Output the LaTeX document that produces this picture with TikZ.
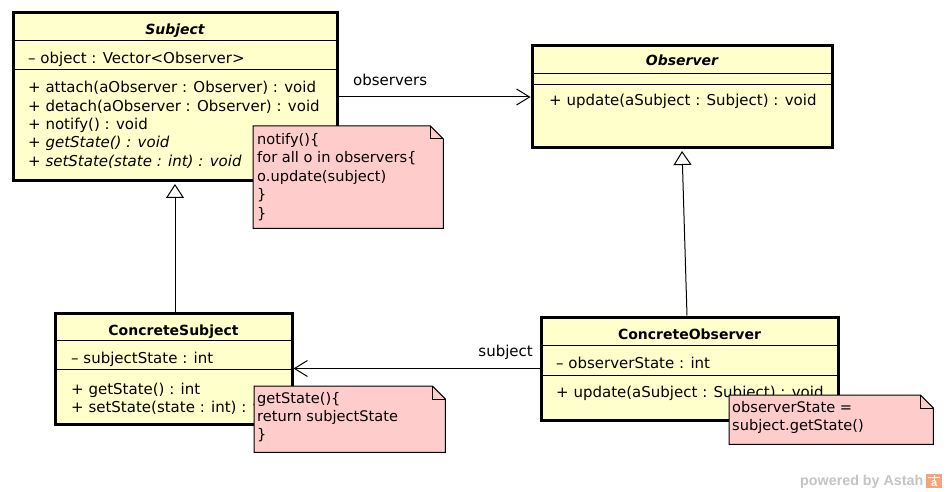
\documentclass[tikz,border=0pt]{standalone}
\usepackage{fontspec}
\setmainfont{DejaVu Sans}
\newfontfamily\wmfont{Liberation Sans}
\usetikzlibrary{arrows.meta,calc}

\definecolor{classfill}{HTML}{FFFFCC}
\definecolor{notefill}{HTML}{FFCCCC}
\definecolor{wmgray}{HTML}{C4C4C4}
\definecolor{wmorange}{HTML}{F4A47C}

\tikzset{
  classbox/.style={rectangle, draw=black, line width=3pt, fill=classfill, inner sep=0pt},
  divider/.style={draw=black, line width=1pt},
  member/.style={anchor=base west, inner sep=0pt, font=\fontsize{15}{18}\selectfont},
  ctitle/.style={anchor=base, inner sep=0pt, font=\fontsize{14}{17}\selectfont\bfseries},
  notebox/.style={rectangle, inner sep=0pt, draw=none, anchor=north west},
  noteline/.style={anchor=base west, inner sep=0pt, font=\fontsize{14.6}{17}\selectfont},
  notepaper/.style={draw=black, line width=1pt, fill=notefill},
  link/.style={draw=black, line width=1pt},
  assoc/.style={link, -{Straight Barb[length=13pt, width=16pt]}},
  inherit/.style={link, -{Triangle[length=14pt, width=18pt, fill=white]}, shorten >=1.5pt},
  rolename/.style={inner sep=0pt, font=\fontsize{15}{18}\selectfont},
}

% note sheet with a folded top-right corner, drawn over a placeholder node
\newcommand\dognote[2][13pt]{%
  \filldraw[notepaper] (#2.north west) -- ($(#2.north east)+(-#1,0)$)
    -- ($(#2.north east)+(0,-#1)$) -- (#2.south east) -- (#2.south west) -- cycle;
  \draw[notepaper, fill=none] ($(#2.north east)+(-#1,0)$) |- ($(#2.north east)+(0,-#1)$);}

\begin{document}
\begin{tikzpicture}[x=1pt, y=-1pt]
\useasboundingbox (0,0) rectangle (946,492);

% ---------- Subject ----------
\node[classbox, minimum width=324pt, minimum height=168pt] (subject) at (175,97) {};
\draw[divider] ([yshift=-29pt]subject.north west) -- ([yshift=-29pt]subject.north east);
\draw[divider] ([yshift=-58pt]subject.north west) -- ([yshift=-58pt]subject.north east);
\node[ctitle, font=\fontsize{14}{17}\selectfont\bfseries\itshape] (subject-title) at (175,35) {Subject};
\node[member] (subject-a1) at (28,64) {– object : Vector<Observer>};
\node[member] (subject-m1) at (28,93) {+ attach(aObserver : Observer) : void};
\node[member] (subject-m2) at (28,112) {+ detach(aObserver : Observer) : void};
\node[member] (subject-m3) at (28,130) {+ notify() : void};
\node[member, font=\fontsize{15}{18}\selectfont\itshape] (subject-m4) at (28,148) {+ getState() : void};
\node[member, font=\fontsize{15}{18}\selectfont\itshape] (subject-m5) at (28,167) {+ setState(state : int) : void};

% ---------- Observer ----------
\node[classbox, minimum width=300pt, minimum height=102pt] (observer) at (682,97) {};
\draw[divider] ([yshift=-29pt]observer.north west) -- ([yshift=-29pt]observer.north east);
\draw[divider] ([yshift=-40pt]observer.north west) -- ([yshift=-40pt]observer.north east);
\node[ctitle, font=\fontsize{14}{17}\selectfont\bfseries\itshape] (observer-title) at (682,66) {Observer};
\node[member] (observer-m1) at (549,106) {+ update(aSubject : Subject) : void};

% ---------- ConcreteSubject ----------
\node[classbox, minimum width=237pt, minimum height=111pt] (csubject) at (173.5,368.5) {};
\draw[divider] ([yshift=-29pt]csubject.north west) -- ([yshift=-29pt]csubject.north east);
\draw[divider] ([yshift=-58pt]csubject.north west) -- ([yshift=-58pt]csubject.north east);
\node[ctitle] (csubject-title) at (173.5,335) {ConcreteSubject};
\node[member] (csubject-a1) at (71,363) {– subjectState : int};
\node[member] (csubject-m1) at (71,394) {+ getState() : int};
\node[member] (csubject-m2) at (71,412) {+ setState(state : int) : void};

% ---------- ConcreteObserver ----------
\node[classbox, minimum width=297pt, minimum height=103pt] (cobserver) at (689.5,368.5) {};
\draw[divider] ([yshift=-30pt]cobserver.north west) -- ([yshift=-30pt]cobserver.north east);
\draw[divider] ([yshift=-60pt]cobserver.north west) -- ([yshift=-60pt]cobserver.north east);
\node[ctitle] (cobserver-title) at (689.5,339) {ConcreteObserver};
\node[member] (cobserver-a1) at (556,368) {– observerState : int};
\node[member] (cobserver-m1) at (556,397) {+ update(aSubject : Subject) : void};

% ---------- relations ----------
\draw[assoc] (subject.east) -- (observer.west);
\node[rolename, anchor=base west] (role-observers) at (353,86) {observers};
\draw[assoc] (cobserver.west) -- (csubject.east);
\node[rolename, anchor=base east] (role-subject) at (533,356) {subject};
\draw[inherit] (csubject.north -| subject.south) -- (subject.south);
\draw[inherit] (cobserver.north -| 687,0) -- (observer.south);

% ---------- notes ----------
\node[notebox, minimum width=190pt, minimum height=102pt] (note1) at (253,126) {};
\dognote{note1}
\node[noteline] (note1-l1) at (257,144.5) {notify()\{};
\node[noteline] (note1-l2) at (257,163) {for all o in observers\{};
\node[noteline] (note1-l3) at (257,181.5) {o.update(subject)};
\node[noteline] (note1-l4) at (257,200) {\}};
\node[noteline] (note1-l5) at (257,218.5) {\}};

\node[notebox, minimum width=191pt, minimum height=66pt] (note2) at (254,386) {};
\dognote{note2}
\node[noteline] (note2-l1) at (257,403) {getState()\{};
\node[noteline] (note2-l2) at (257,421) {return subjectState};
\node[noteline] (note2-l3) at (257,439) {\}};

\node[notebox, minimum width=204pt, minimum height=49pt] (note3) at (729,395) {};
\dognote{note3}
\node[noteline] (note3-l1) at (732,412) {observerState =};
\node[noteline] (note3-l2) at (732,430) {subject.getState()};

% ---------- watermark ----------
\node[anchor=base west, inner sep=0pt, text=wmgray,
      font=\wmfont\bfseries\fontsize{14.3}{16}\selectfont] (wm) at (800,485) {powered by Astah};
\node[rectangle, fill=wmorange, inner sep=0pt, minimum width=16pt, minimum height=14pt,
      anchor=north west] (wm-logo) at (926,474) {};
\draw[white, line width=1pt] ([xshift=2pt,yshift=-3pt]wm-logo.north west) -- ([xshift=-2pt,yshift=-3pt]wm-logo.north east);
\draw[white, line width=1pt] ([yshift=-1pt]wm-logo.north) -- ([yshift=-6pt]wm-logo.north);
\node[anchor=base, inner sep=0pt, text=white, font=\wmfont\bfseries\fontsize{11}{12}\selectfont]
      (wm-a) at ([yshift=1.5pt]wm-logo.south) {a};
\end{tikzpicture}
\end{document}
